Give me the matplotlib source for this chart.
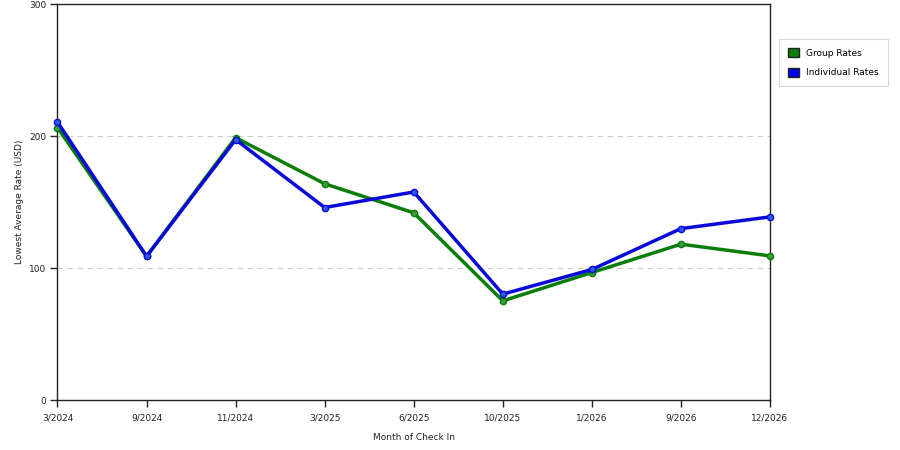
import matplotlib
matplotlib.use("Agg")
import matplotlib.pyplot as plt
from matplotlib.patches import Patch

months = ["3/2024", "9/2024", "11/2024", "3/2025", "6/2025", "10/2025", "1/2026", "9/2026", "12/2026"]
group_rates = [206.6, 109, 199, 164, 142, 75.2, 96.7, 118.2, 109.3]
individual_rates = [210.8, 109, 197.5, 146, 157.8, 80.3, 99, 130, 138.9]
y_ticks = [0, 100, 200, 300]

plt.rcParams['font.family'] = ['DejaVu Sans']
fig = plt.figure(figsize=(9, 4.5), dpi=100)
ax = fig.add_axes([57.5/900, 1-400/450, (770-57.5)/900, (400-4.5)/450])

x = list(range(len(months)))
green = "#0a7d0a"
blue = "#0a0ad8"
ax.plot(x, group_rates, color=green, lw=2.5, marker="o", ms=4.5, mfc="#3a9a3a", mec=green,
        zorder=3, clip_on=False)
ax.plot(x, individual_rates, color=blue, lw=2.5, marker="o", ms=4.5, mfc="#2a5ae8", mec=blue,
        zorder=4, clip_on=False)

ax.set_xlim(0, len(months)-1)
ax.set_ylim(0, 300)
ax.set_xticks(x)
ax.set_xticklabels(months, fontsize=6.5, color="#222222")
ax.set_yticks(y_ticks)
ax.set_yticklabels([str(v) for v in y_ticks], fontsize=6.5, color="#222222")
ax.tick_params(axis='both', length=5, width=1, color="#222222", pad=5)
ax.tick_params(axis='y', pad=3)
for s in ax.spines.values():
    s.set_color("#222222")
    s.set_linewidth(1)
for v in [100, 200]:
    ax.axhline(v, color="#cccccc", lw=0.8, ls=(0, (5, 4)), zorder=1)

ax.set_xlabel("Month of Check In", fontsize=6.5, labelpad=7, color="#222222")
ax.set_ylabel("Lowest Average Rate (USD)", fontsize=6.5, labelpad=4, color="#222222")

handles = [Patch(facecolor="#0a7d0a", edgecolor="#222222", label="Group Rates"),
           Patch(facecolor="#0000ee", edgecolor="#222222", label="Individual Rates")]
leg = fig.legend(handles=handles, loc="upper left", bbox_to_anchor=(779/900, 1-39/450),
                 fontsize=6.5, frameon=True, fancybox=False, handlelength=1.2, handleheight=1.2,
                 borderpad=1.0, labelspacing=1.1, handletextpad=0.8, borderaxespad=0)
leg.get_frame().set_edgecolor("#cccccc")
leg.get_frame().set_linewidth(0.8)

fig.savefig("out.png", dpi=100)
